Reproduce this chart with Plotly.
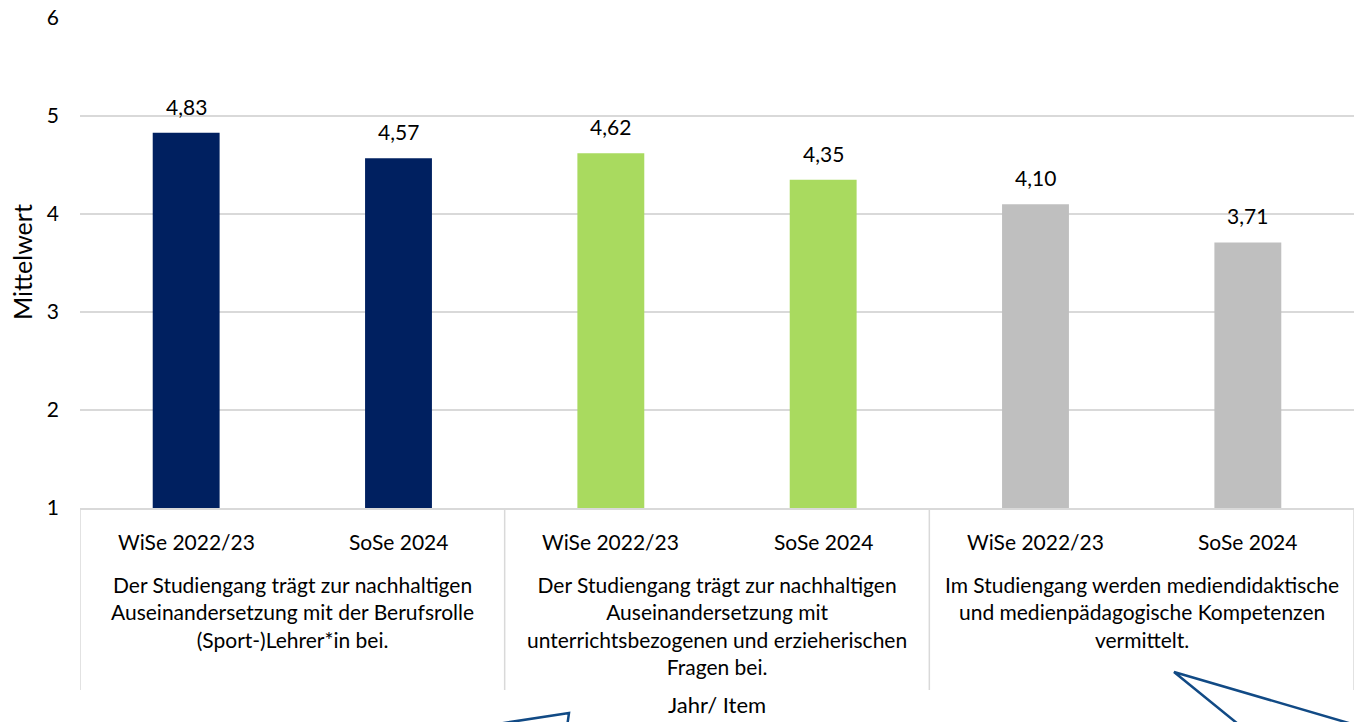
import plotly.graph_objects as go

# ---- data ----
periods = ["WiSe 2022/23", "SoSe 2024", "WiSe 2022/23", "SoSe 2024", "WiSe 2022/23", "SoSe 2024"]
items = [
    "Der Studiengang trägt zur nachhaltigen<br>Auseinandersetzung mit der Berufsrolle<br>(Sport-)Lehrer*in bei.",
    "Der Studiengang trägt zur nachhaltigen<br>Auseinandersetzung mit<br>unterrichtsbezogenen und erzieherischen<br>Fragen bei.",
    "Im Studiengang werden mediendidaktische<br>und medienpädagogische Kompetenzen<br>vermittelt.",
]
values = [4.83, 4.57, 4.62, 4.35, 4.10, 3.71]
item_colors = ["#002060", "#A9DA5F", "#BFBFBF"]
y_title = "Mittelwert"
x_title = "Jahr/ Item"

FONT = "Lato"
TXT = "#000000"
GRID = "#D9D9D9"
FS = 21

xs = list(range(len(values)))
colors = [item_colors[i // 2] for i in xs]

fig = go.Figure()
fig.add_trace(go.Bar(
    x=xs, y=values, base=0, marker=dict(color=colors, line=dict(width=0)),
    width=0.315, hoverinfo="skip", showlegend=False,
))

annotations = []
# data labels
for x, v in zip(xs, values):
    annotations.append(dict(x=x, y=v, xref="x", yref="y", text=f"{v:.2f}".replace(".", ","),
                            showarrow=False, yanchor="bottom", yshift=12,
                            font=dict(family=FONT, size=FS, color=TXT)))
# period labels
for x, p in zip(xs, periods):
    annotations.append(dict(x=x, y=(508 - 541) / 490, xref="x", yref="paper", text=p,
                            showarrow=False, yanchor="middle",
                            font=dict(family=FONT, size=FS, color=TXT)))
# item labels
for g, it in enumerate(items):
    annotations.append(dict(x=2 * g + 0.5, y=(508 - 570) / 490, xref="x", yref="paper", text=it,
                            showarrow=False, yanchor="top", align="center",
                            font=dict(family=FONT, size=FS, color=TXT)))
# axis titles
annotations.append(dict(x=0.5, y=(508 - 720) / 490, xref="paper", yref="paper", text=x_title,
                        showarrow=False, yanchor="bottom",
                        font=dict(family=FONT, size=22, color=TXT)))
annotations.append(dict(x=(22 - 80) / 1274, y=(508 - 262) / 490, xref="paper", yref="paper",
                        text=y_title, textangle=-90, showarrow=False, xanchor="center",
                        font=dict(family=FONT, size=25, color=TXT)))

shapes = []
# group separators
for sx in [-0.5, 1.5, 3.5, 5.5]:
    shapes.append(dict(type="line", xref="x", yref="paper", x0=sx, x1=sx,
                       y0=0, y1=(508 - 690) / 490, line=dict(color=GRID, width=1.5)))

def px(x, y):
    return (x - 80) / 1274, (508 - y) / 490

ARROW = "#114A85"
a = [px(478, 727), px(569, 713), px(567, 727)]
shapes.append(dict(type="path", xref="paper", yref="paper",
                   path="M {} {} L {} {} L {} {}".format(a[0][0], a[0][1], a[1][0], a[1][1], a[2][0], a[2][1]),
                   line=dict(color=ARROW, width=2.5)))
b = [px(1238, 724), px(1174, 672), px(1352, 724)]
shapes.append(dict(type="path", xref="paper", yref="paper",
                   path="M {} {} L {} {} L {} {}".format(b[0][0], b[0][1], b[1][0], b[1][1], b[2][0], b[2][1]),
                   line=dict(color=ARROW, width=2.5)))

fig.update_layout(
    width=1354, height=722,
    margin=dict(l=80, r=0, t=18, b=214),
    paper_bgcolor="white", plot_bgcolor="white",
    font=dict(family=FONT, size=FS, color=TXT),
    annotations=annotations, shapes=shapes,
    xaxis=dict(range=[-0.5, 5.5], showticklabels=False, showgrid=False, zeroline=False,
               showline=True, linecolor=GRID, linewidth=1.5, fixedrange=True),
    yaxis=dict(range=[1, 6], dtick=1, showgrid=True, gridcolor=GRID, gridwidth=1.5,
               zeroline=False, showline=False, ticks="", ticklabelstandoff=20,
               tickfont=dict(family=FONT, size=FS, color=TXT), fixedrange=True),
)

fig.write_html(
    "out.html",
    config={"displayModeBar": False},
    post_script="document.body.style.margin='0';document.body.style.padding='0';document.body.style.overflow='hidden';",
)
